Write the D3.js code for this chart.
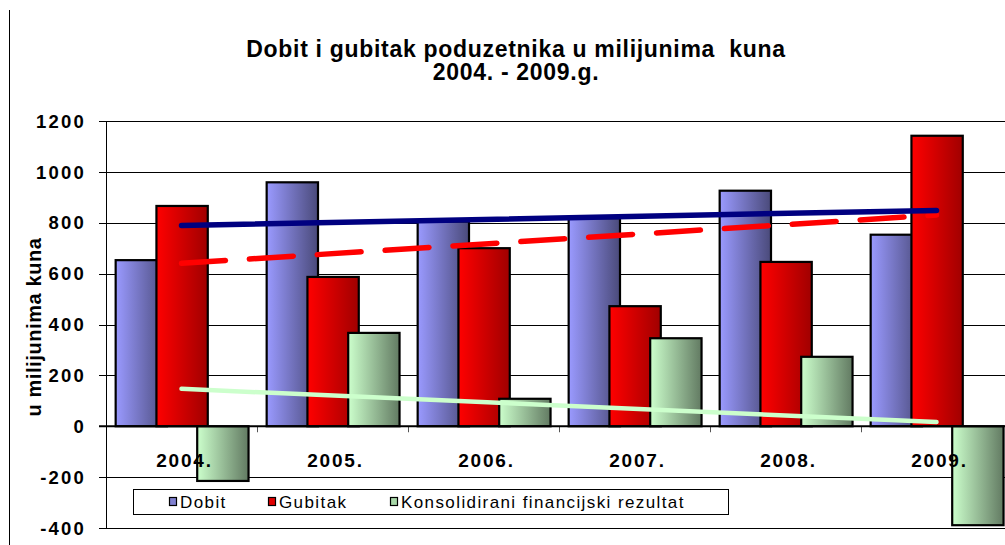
<!DOCTYPE html>
<html>
<head>
<meta charset="utf-8">
<script src="https://cdn.jsdelivr.net/npm/d3@7"></script>
<style>
  html, body { margin: 0; padding: 0; background: #fff; }
  svg { display: block; }
  text { font-family: Arial, "Liberation Sans", sans-serif; }
</style>
</head>
<body>
<svg id="chart" width="1005" height="545"></svg>
<script>
// ---- data ----
const years = ["2004.", "2005.", "2006.", "2007.", "2008.", "2009."];
const dobit = [653, 959, 805, 818, 926, 753];
const gubitak = [866, 587, 700, 472, 646, 1142];
const konsolidirani = [-215, 367, 108, 346, 273, -389];
const seriesNames = ["Dobit", "Gubitak", "Konsolidirani financijski rezultat"];
const yTicks = [-400, -200, 0, 200, 400, 600, 800, 1000, 1200];
const titleLines = ["Dobit i gubitak poduzetnika u milijunima  kuna", "2004. - 2009.g."];
const yTitle = "u milijunima kuna";

const seriesData = [dobit, gubitak, konsolidirani];
const gradStops = [
  ["#9a9aff", "#4a4a7a"],
  ["#ff0000", "#a00000"],
  ["#ccffcc", "#627a62"]
];
const markerFill = ["#8080d0", "#e00000", "#a8d8a8"];

const svg = d3.select("#chart");
svg.append("rect").attr("width", 1005).attr("height", 545).attr("fill", "#fff");

// gradients
const defs = svg.append("defs");
gradStops.forEach((s, i) => {
  const g = defs.append("linearGradient").attr("id", "g" + i)
    .attr("x1", "0%").attr("x2", "100%").attr("y1", "0%").attr("y2", "0%");
  g.append("stop").attr("offset", "0%").attr("stop-color", s[0]);
  g.append("stop").attr("offset", "100%").attr("stop-color", s[1]);
});

// left border of chart frame
svg.append("line").attr("x1", 9.5).attr("x2", 9.5).attr("y1", 10).attr("y2", 545)
  .attr("stroke", "#000").attr("stroke-width", 1);

// scales
const x = d3.scaleBand().domain(years).range([106, 1012]).padding(0);
const y = d3.scaleLinear().domain([-400, 1200]).range([528, 121]);

// gridlines + y ticks
const grid = svg.append("g");
grid.selectAll("line").data(yTicks).join("line")
  .attr("x1", 99).attr("x2", 1005)
  .attr("y1", d => Math.round(y(d)) + 0.5).attr("y2", d => Math.round(y(d)) + 0.5)
  .attr("stroke", "#000").attr("stroke-width", 1);

// plot area left border
svg.append("line").attr("x1", 106.5).attr("x2", 106.5)
  .attr("y1", y(1200)).attr("y2", y(-400) + 1).attr("stroke", "#000");

// y axis labels
svg.append("g").selectAll("text").data(yTicks).join("text")
  .attr("x", 86).attr("y", d => y(d)).attr("dy", "0.36em")
  .attr("text-anchor", "end")
  .attr("font-size", 18.5).attr("font-weight", "bold")
  .attr("letter-spacing", 2.2)
  .attr("fill", "#000")
  .text(d => d);

// y axis title
svg.append("text")
  .attr("transform", "translate(41,327) rotate(-90)")
  .attr("text-anchor", "middle")
  .attr("font-size", 20).attr("font-weight", "bold")
  .attr("letter-spacing", 0.6)
  .text(yTitle);

// category tick marks at zero line
svg.append("g").selectAll("line").data(years.slice(1)).join("line")
  .attr("x1", d => Math.round(x(d)) + 0.5).attr("x2", d => Math.round(x(d)) + 0.5)
  .attr("y1", y(0)).attr("y2", y(0) + 6)
  .attr("stroke", "#555").attr("stroke-width", 1);

// bars
const bw = x.bandwidth();
const barInset = bw * 0.064, barStep = bw * 0.27, barW = bw * 0.34;
seriesData.forEach((vals, si) => {
  svg.append("g").selectAll("rect").data(vals).join("rect")
    .attr("x", (d, i) => x(years[i]) + barInset + si * barStep)
    .attr("width", barW)
    .attr("y", d => Math.min(y(d), y(0)))
    .attr("height", d => Math.abs(y(d) - y(0)))
    .attr("fill", "url(#g" + si + ")")
    .attr("stroke", "#000").attr("stroke-width", 2.2);
});

// zero axis line
svg.append("line").attr("x1", 99).attr("x2", 1005)
  .attr("y1", y(0)).attr("y2", y(0)).attr("stroke", "#000").attr("stroke-width", 2);

// category labels (drawn over the bars)
svg.append("g").selectAll("text").data(years).join("text")
  .attr("x", d => x(d) + x.bandwidth() / 2 + 3).attr("y", 466.5)
  .attr("text-anchor", "middle")
  .attr("font-size", 19).attr("font-weight", "bold")
  .attr("letter-spacing", 1.8)
  .text(d => d);

// linear trendlines (least squares of each series)
function trend(vals) {
  const n = vals.length, xs = d3.range(n);
  const mx = d3.mean(xs), my = d3.mean(vals);
  const b = d3.sum(xs, (xi, i) => (xi - mx) * (vals[i] - my)) / d3.sum(xs, xi => (xi - mx) ** 2);
  const a = my - b * mx;
  return xs.map(xi => a + b * xi);
}
const trendStyles = [
  { color: "#000080", w: 5.5, dash: null },
  { color: "#ff0000", w: 5.5, dash: "44 24" },
  { color: "#ccffcc", w: 4.5, dash: null }
];
[2, 1, 0].forEach(si => {
  const t = trend(seriesData[si]);
  const st = trendStyles[si];
  const ends = [0, years.length - 1];
  svg.append("path")
    .attr("d", d3.line().x(k => x(years[k]) + bw / 2).y(k => y(t[k]))(ends))
    .attr("fill", "none").attr("stroke", st.color).attr("stroke-width", st.w)
    .attr("stroke-linecap", "round")
    .attr("stroke-dasharray", st.dash);
});

// legend
const lg = svg.append("g");
lg.append("rect").attr("x", 133.5).attr("y", 489.5).attr("width", 595).attr("height", 25)
  .attr("fill", "#fff").attr("stroke", "#000").attr("stroke-width", 1);
const legendX = [169, 268, 390];
seriesNames.forEach((name, i) => {
  lg.append("rect").attr("x", legendX[i] + 0.5).attr("y", 497.5).attr("width", 7).attr("height", 8)
    .attr("fill", markerFill[i]).attr("stroke", "#000").attr("stroke-width", 1.2);
  lg.append("text").attr("x", legendX[i] + 11).attr("y", 507.5)
    .attr("font-size", 17).attr("letter-spacing", 1.4)
    .text(name);
});

// title
svg.append("g").selectAll("text").data(titleLines).join("text")
  .attr("x", 516).attr("y", (d, i) => 56.5 + i * 23.5)
  .attr("text-anchor", "middle")
  .attr("font-size", 23).attr("font-weight", "bold")
  .attr("letter-spacing", 0.7)
  .style("white-space", "pre")
  .text(d => d);
</script>
</body>
</html>
